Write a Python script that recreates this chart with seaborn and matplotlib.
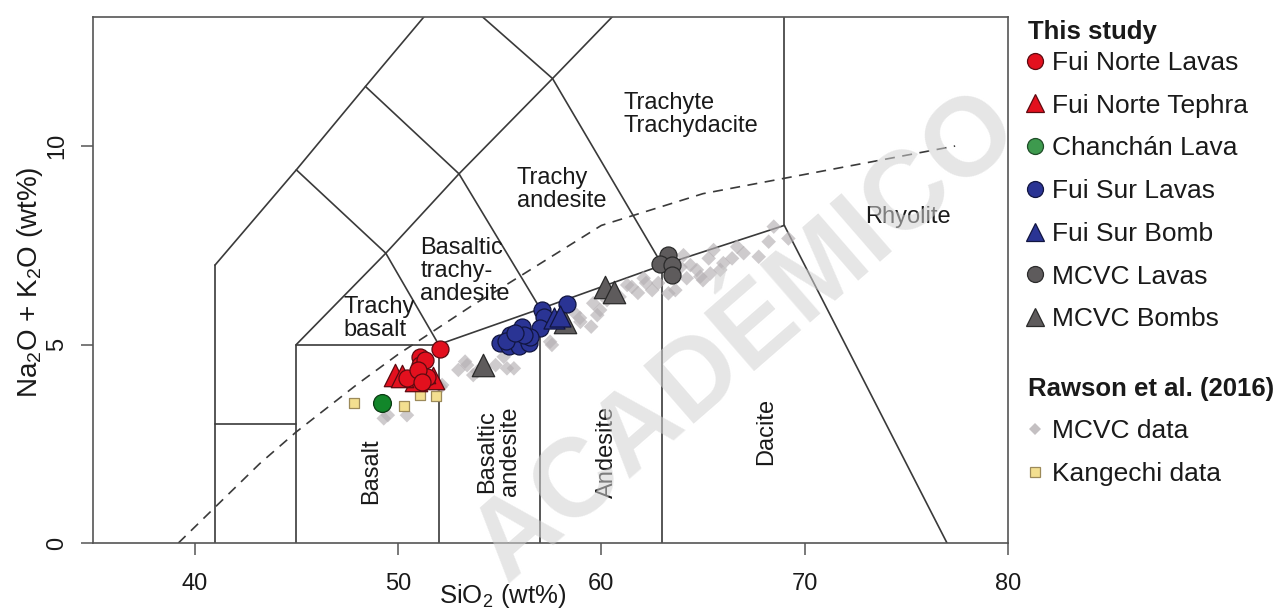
import numpy as np
import pandas as pd
import matplotlib
matplotlib.use("Agg")
import matplotlib.pyplot as plt
from matplotlib.lines import Line2D
import seaborn as sns

# ---------------- data ----------------
fn_lavas_x = [52.05, 51.10, 51.07, 51.35, 51.43, 50.45, 51.00, 51.20]
fn_lavas_y = [4.88, 4.69, 4.48, 4.61, 4.19, 4.15, 4.35, 4.05]

fn_tephra_x = [49.87, 51.74, 50.90, 51.30, 50.20]
fn_tephra_y = [4.23, 4.16, 4.10, 4.30, 4.20]

chanchan_x = [49.21]
chanchan_y = [3.53]

fs_lavas_x = [58.31, 57.08, 57.16, 56.99, 56.09, 55.52, 55.03, 55.44, 55.93, 56.43, 56.50, 55.30, 56.20, 55.75]
fs_lavas_y = [6.02, 5.87, 5.70, 5.41, 5.45, 5.24, 5.03, 4.95, 4.95, 5.03, 5.20, 5.10, 5.25, 5.30]

fs_bomb_x = [57.66, 57.95]
fs_bomb_y = [5.66, 5.72]

mcvc_lavas_x = [63.26, 62.90, 63.48, 63.48]
mcvc_lavas_y = [7.25, 7.04, 7.00, 6.75]

mcvc_bombs_x = [54.20, 58.23, 60.20, 60.60]
mcvc_bombs_y = [4.48, 5.57, 6.46, 6.33]

kangechi_x = [47.82, 50.31, 51.06, 51.87]
kangechi_y = [3.53, 3.45, 3.73, 3.70]

mcvc_data_x = [49.30, 49.50, 50.44, 52.17, 52.97, 53.40, 53.70, 52.10,
               53.30, 53.90, 54.80, 55.36, 55.20, 57.48, 57.57, 58.70, 58.97, 59.50,
               59.60, 59.80, 60.28, 55.70, 59.94, 58.95,
               61.27, 62.08, 62.50, 63.30, 63.64, 64.20, 64.38, 64.70, 64.87, 65.28,
               65.36, 65.52, 65.85, 66.43, 66.68, 67.74, 68.23, 68.48, 69.20, 64.04,
               65.00, 61.80, 62.20, 60.90, 61.50, 62.80, 63.90, 66.00, 67.00]
mcvc_data_y = [3.14, 3.22, 3.22, 3.98, 4.36, 4.48, 4.23, 3.93,
               4.57, 4.32, 4.48, 4.40, 4.69, 5.07, 4.99, 5.79, 5.57, 5.45,
               6.04, 5.74, 6.12, 4.40, 5.87, 5.67,
               6.50, 6.67, 6.37, 6.29, 6.37, 6.67, 7.00, 6.88, 6.71, 7.17,
               6.79, 7.38, 6.88, 7.17, 7.46, 7.21, 7.59, 7.97, 7.67, 7.25,
               6.62, 6.30, 6.55, 6.20, 6.45, 6.55, 6.95, 7.05, 7.30]

# TAS field boundaries (Le Bas et al. 1986)
tas_lines = [
    [(41, 0), (41, 7)],
    [(41, 7), (45, 9.4), (48.4, 11.5), (52.5, 14)],
    [(41, 3), (45, 3)],
    [(45, 0), (45, 5)],
    [(45, 5), (49.4, 7.3), (53, 9.3), (57.6, 11.7), (61, 13.5)],
    [(45, 5), (52, 5)],
    [(52, 0), (52, 5)],
    [(52, 5), (57, 5.9), (63, 7), (69, 8)],
    [(57, 0), (57, 5.9)],
    [(63, 0), (63, 7)],
    [(69, 8), (69, 14)],
    [(69, 8), (77, 0)],
    [(45, 9.4), (49.4, 7.3), (52, 5)],
    [(48.4, 11.5), (53, 9.3), (57, 5.9)],
    [(52.5, 14), (57.6, 11.7), (63, 7)],
]
# Irvine & Baragar alkaline / subalkaline divide
ib_x = [39.2, 40, 43.2, 45, 48, 50, 53.7, 55, 60, 65, 77.4]
ib_y = [0, 0.4, 2, 2.8, 4, 4.75, 6, 6.4, 8, 8.8, 10]

field_labels = [
    ("Trachy\nbasalt", 47.3, 5.65, 0),
    ("Basaltic\ntrachy-\nandesite", 51.1, 6.85, 0),
    ("Trachy\nandesite", 55.85, 8.9, 0),
    ("Trachyte\nTrachydacite", 61.1, 10.8, 0),
    ("Rhyolite", 72.95, 8.2, 0),
    ("Basalt", 48.7, 1.8, 90),
    ("Basaltic\nandesite", 54.95, 2.3, 90),
    ("Andesite", 60.3, 2.3, 90),
    ("Dacite", 68.1, 2.8, 90),
]

# ---------------- style ----------------
sns.set_style("white")
plt.rcParams["font.family"] = ["Liberation Sans", "DejaVu Sans"]
plt.rcParams["mathtext.fontset"] = "custom"
plt.rcParams["mathtext.rm"] = "Liberation Sans"

FS = 17
LFS = 19
fig = plt.figure(figsize=(12.85, 6.08), dpi=100)
ax = fig.add_axes([93 / 1285, 65 / 608, 915 / 1285, 526 / 608])

line_col = "#3a3a3a"
for seg in tas_lines:
    xs, ys = zip(*seg)
    ax.plot(xs, ys, color=line_col, lw=1.2, zorder=1, solid_joinstyle="miter")
ax.plot(ib_x, ib_y, color=line_col, lw=1.2, ls=(0, (6, 4.5)), zorder=1)

for txt, x, y, rot in field_labels:
    if rot == 0:
        ax.text(x, y, txt, fontsize=FS, ha="left", va="center", rotation=0,
                linespacing=1.05, color="#1a1a1a", zorder=2)
    else:
        ax.text(x, y, txt, fontsize=FS, ha="center", va="center", rotation=90,
                multialignment="center", linespacing=1.05, color="#1a1a1a", zorder=2)

# Rawson et al. data
sns.scatterplot(x=mcvc_data_x, y=mcvc_data_y, marker="D", s=55, color="#b5b0b3",
                alpha=0.65, edgecolor="none", linewidth=0, ax=ax, zorder=3, legend=False)
sns.scatterplot(x=kangechi_x, y=kangechi_y, marker="s", s=45, color="#f3df90",
                edgecolor="#9c8a5a", linewidth=0.9, ax=ax, zorder=4, legend=False)

# This study
red, red_edge = "#e3101e", "#5c0a10"
blue, blue_edge = "#2a3494", "#111540"
grey, grey_edge = "#5e5b5c", "#2a2a2a"
green, green_edge = "#12862a", "#0a3a12"

sns.scatterplot(x=fn_tephra_x, y=fn_tephra_y, marker="^", s=260, color=red,
                edgecolor=red_edge, linewidth=0.9, ax=ax, zorder=5, legend=False)
sns.scatterplot(x=fn_lavas_x, y=fn_lavas_y, marker="o", s=150, color=red,
                edgecolor=red_edge, linewidth=0.9, ax=ax, zorder=6, legend=False)
sns.scatterplot(x=chanchan_x, y=chanchan_y, marker="o", s=165, color=green,
                edgecolor=green_edge, linewidth=0.9, ax=ax, zorder=6, legend=False)
sns.scatterplot(x=mcvc_bombs_x, y=mcvc_bombs_y, marker="^", s=260, color=grey,
                edgecolor=grey_edge, linewidth=0.9, ax=ax, zorder=5, legend=False)
sns.scatterplot(x=fs_lavas_x, y=fs_lavas_y, marker="o", s=150, color=blue,
                edgecolor=blue_edge, linewidth=0.9, ax=ax, zorder=6, legend=False)
sns.scatterplot(x=fs_bomb_x, y=fs_bomb_y, marker="^", s=230, color=blue,
                edgecolor=blue_edge, linewidth=0.9, ax=ax, zorder=6, legend=False)
sns.scatterplot(x=mcvc_lavas_x, y=mcvc_lavas_y, marker="o", s=150, color=grey,
                edgecolor=grey_edge, linewidth=0.9, ax=ax, zorder=6, legend=False)

# axes
ax.set_xlim(35, 80)
ax.set_ylim(0, 13.25)
ax.set_xticks([40, 50, 60, 70, 80])
ax.set_yticks([0, 5, 10])
for sp in ax.spines.values():
    sp.set_color("#555555")
    sp.set_linewidth(1.2)
ax.tick_params(axis="both", which="major", direction="out", length=8.6, width=1.1,
               color="#555555", labelsize=FS, labelcolor="#1a1a1a",
               bottom=True, left=True, top=False, right=False)
ax.tick_params(axis="x", pad=13)
ax.tick_params(axis="y", pad=9)
for lab in ax.get_yticklabels():
    lab.set_rotation(90)
    lab.set_va("center")

ax.set_xlabel("SiO$_\\mathregular{2}$ (wt%)", fontsize=18.5, color="#1a1a1a")
ax.set_ylabel("Na$_\\mathregular{2}$O + K$_\\mathregular{2}$O (wt%)", fontsize=20,
              color="#1a1a1a")
ax.xaxis.set_label_coords(0.448, -0.074)
ax.yaxis.set_label_coords(-0.052, 0.495)

# legends
def h(marker, fc, ec, ms, lw=0.9):
    return Line2D([], [], ls="none", marker=marker, markerfacecolor=fc,
                  markeredgecolor=ec, markersize=ms, markeredgewidth=lw)

h1 = [h("o", red, red_edge, 11.5), h("^", red, red_edge, 13),
      h("o", "#3e9a4e", "#1f4d28", 11.5), h("o", blue, blue_edge, 11.5),
      h("^", blue, blue_edge, 13), h("o", grey, grey_edge, 11.5),
      h("^", grey, grey_edge, 13)]
l1 = ["Fui Norte Lavas", "Fui Norte Tephra", "Chanchán Lava", "Fui Sur Lavas",
      "Fui Sur Bomb", "MCVC Lavas", "MCVC Bombs"]
h2 = [h("D", "#c4c0c2", "none", 6.5, 0), h("s", "#f3df90", "#9c8a5a", 6.5)]
l2 = ["MCVC data", "Kangechi data"]

leg_kw = dict(loc="upper left", bbox_transform=fig.transFigure, frameon=False,
              fontsize=LFS, borderpad=0, borderaxespad=0, handlelength=1.0,
              handletextpad=0.14, labelspacing=0.71, labelcolor="#1a1a1a")
leg1 = ax.legend(h1, l1, bbox_to_anchor=(1022 / 1285, 1 - 51 / 608), **leg_kw)
ax.add_artist(leg1)
leg2 = ax.legend(h2, l2, bbox_to_anchor=(1022 / 1285, 1 - 419 / 608), **leg_kw)

fig.text(1028 / 1285, 1 - 32 / 608, "This study", fontsize=18.5, fontweight="bold",
         ha="left", va="center", color="#1a1a1a")
fig.text(1028 / 1285, 1 - 389 / 608, "Rawson et al. (2016)", fontsize=18.5,
         fontweight="bold", ha="left", va="center", color="#1a1a1a")

# watermark
fig.text(746 / 1285, 1 - 338 / 608, "ACADÉMICO", fontsize=80, fontweight="bold",
         rotation=41, ha="center", va="center", color="#d2d2d2", alpha=0.55,
         zorder=20, rotation_mode="anchor")

fig.savefig("out.png", dpi=100)
